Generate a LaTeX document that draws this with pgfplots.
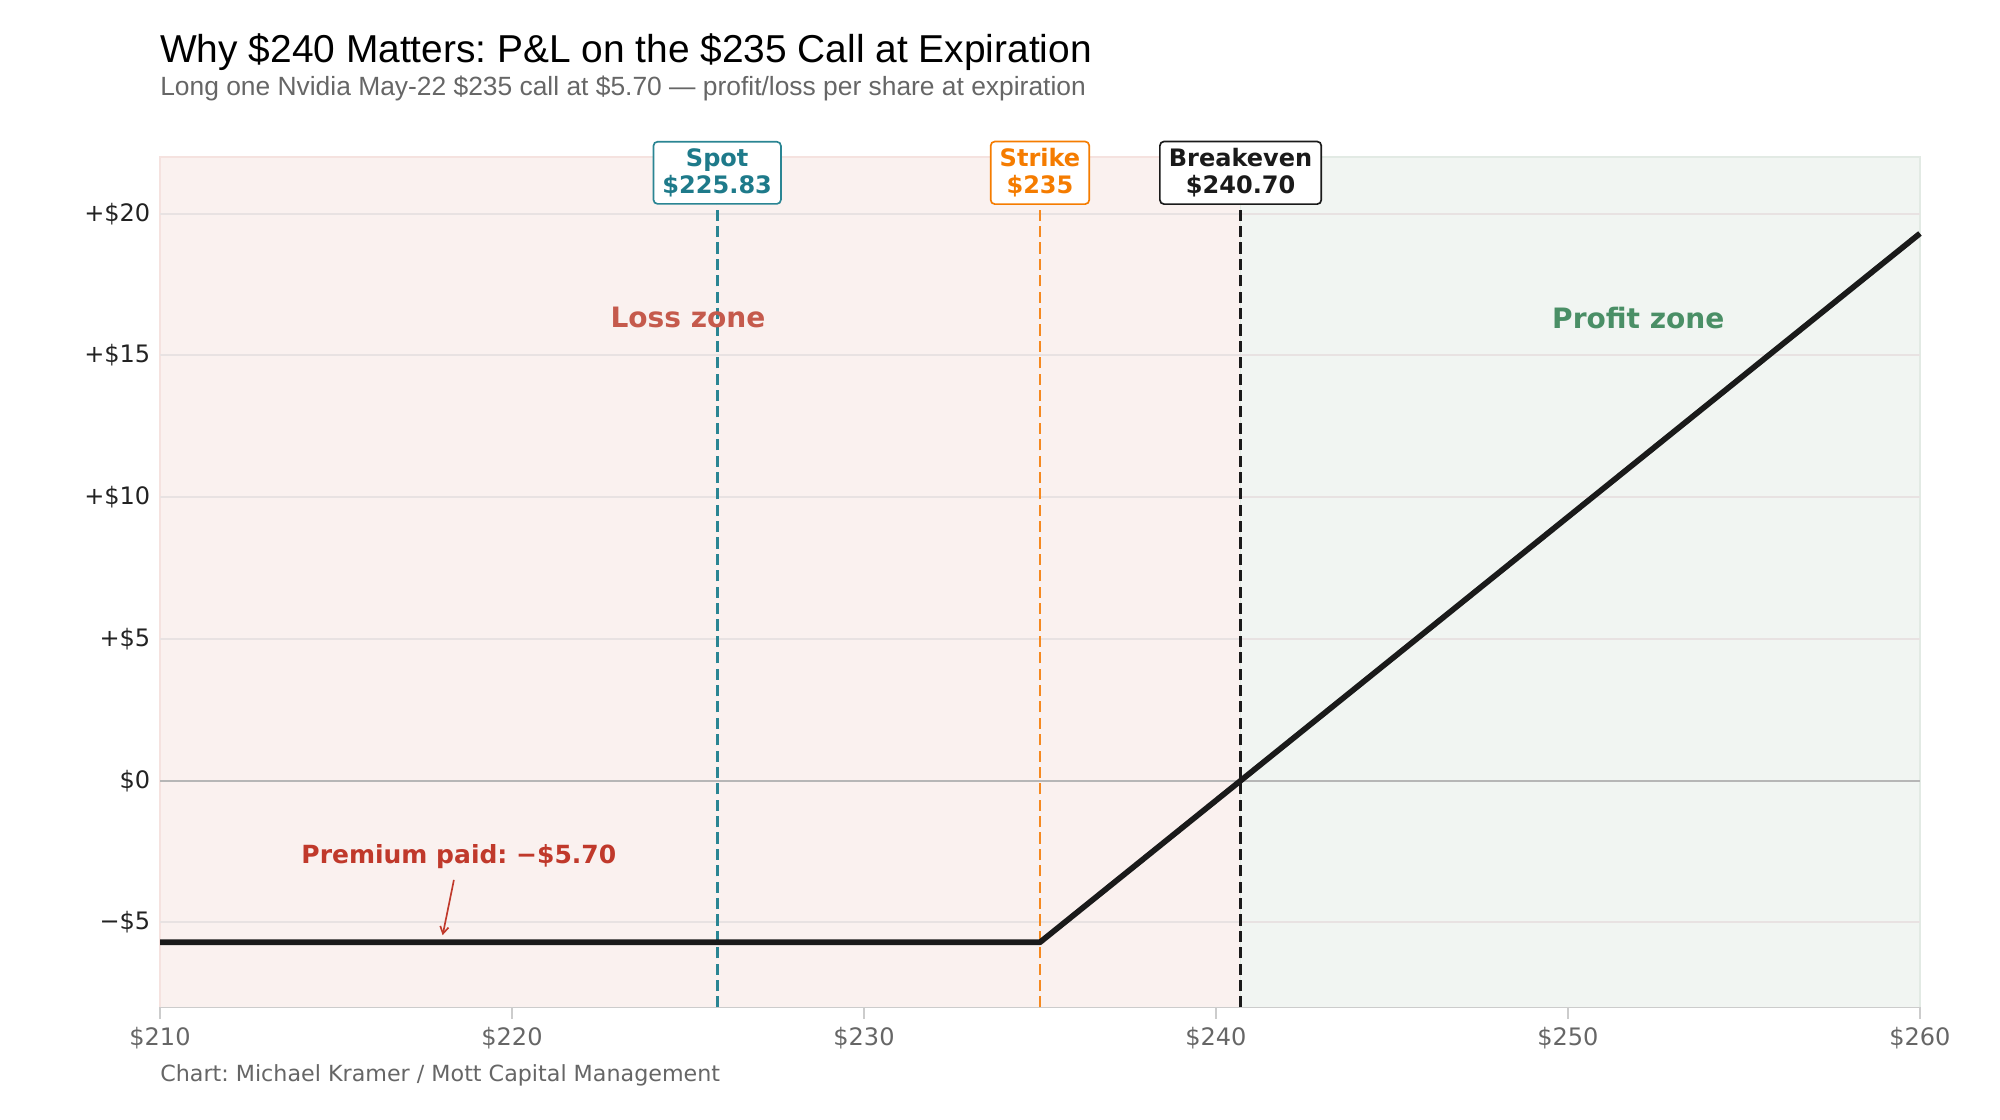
\documentclass[border=0pt]{standalone}
\usepackage{fontspec}
\setmainfont{DejaVu Sans}
\newfontfamily\headfont{Liberation Sans}
\usepackage{pgfplots}
\pgfplotsset{compat=1.18}
\usetikzlibrary{arrows.meta}
\frenchspacing

\definecolor{lossfill}{RGB}{250,241,239}
\definecolor{lossedge}{RGB}{245,226,223}
\definecolor{profitfill}{RGB}{241,245,242}
\definecolor{profitedge}{RGB}{226,234,228}
\definecolor{gridc}{RGB}{232,226,226}
\definecolor{zeroc}{RGB}{182,182,182}
\definecolor{spinec}{RGB}{204,204,204}
\definecolor{payoff}{RGB}{26,26,26}
\definecolor{spotline}{RGB}{42,133,147}
\definecolor{spottext}{RGB}{30,122,138}
\definecolor{strikeline}{RGB}{245,137,31}
\definecolor{striketext}{RGB}{245,124,0}
\definecolor{bevenc}{RGB}{26,26,26}
\definecolor{losstext}{RGB}{197,90,76}
\definecolor{profittext}{RGB}{74,143,102}
\definecolor{premtext}{RGB}{192,57,43}
\definecolor{greytext}{RGB}{102,102,102}
\definecolor{ylabc}{RGB}{34,34,34}

\tikzset{tag/.style={fill=white, rounded corners=3bp, line width=1.2bp, align=center,
  inner xsep=6.5bp, inner ysep=5bp, font=\bfseries\fontsize{17.3bp}{19.4bp}\selectfont}}

\begin{document}
\begin{tikzpicture}
% page frame
\path (0,0) rectangle (1440bp,806.4bp);

% Title block
\node[anchor=base west, inner sep=0, text=black]
  at (115.2bp,761.4bp) {\headfont\fontsize{28bp}{32bp}\selectfont Why \$240 Matters: P\&L on the \$235 Call at Expiration};
\node[anchor=base west, inner sep=0, text=greytext]
  at (115.2bp,737.5bp) {\headfont\fontsize{19bp}{22bp}\selectfont Long one Nvidia May-22 \$235 call at \$5.70 — profit/loss per share at expiration};

\begin{axis}[
  at={(115.2bp,81bp)}, anchor=south west,
  scale only axis, width=1267.2bp, height=612.4bp,
  xmin=210, xmax=260, ymin=-8, ymax=22,
  set layers, clip=false,
  axis x line*=bottom, axis y line*=left,
  x axis line style={draw=spinec, line width=1.4bp, -},
  y axis line style={draw=none},
  xtick={210,220,230,240,250,260},
  xticklabels={\$210,\$220,\$230,\$240,\$250,\$260},
  ytick={-5,0,5,10,15,20},
  yticklabels={−\$5,\$0,+\$5,+\$10,+\$15,+\$20},
  tick align=outside,
  major tick length=8bp,
  x tick style={draw=spinec, line width=1.4bp},
  y tick style={draw=none},
  ymajorgrids,
  grid style={draw=gridc, line width=1.4bp},
  xticklabel style={font=\fontsize{17.3bp}{20bp}\selectfont, text=greytext, yshift=-2.5bp},
  yticklabel style={font=\fontsize{17.3bp}{20bp}\selectfont, text=ylabc, xshift=4.5bp},
]

% Loss and profit regions
\addplot[on layer=axis background, fill=lossfill, draw=lossedge, line width=1bp]
  coordinates {(210,-8) (240.7,-8) (240.7,22) (210,22)} -- cycle;
\addplot[on layer=axis background, fill=profitfill, draw=profitedge, line width=1bp]
  coordinates {(240.7,-8) (260,-8) (260,22) (240.7,22)} -- cycle;

% Zero line
\addplot[draw=zeroc, line width=1.6bp] coordinates {(210,0) (260,0)};

% Reference levels
\addplot[draw=spotline, line width=2.1bp, dash pattern=on 8bp off 3.8bp]
  coordinates {(225.83,-8) (225.83,22)};
\addplot[draw=strikeline, line width=2.1bp, dash pattern=on 8bp off 3.8bp]
  coordinates {(235,-8) (235,22)};
\addplot[draw=bevenc, line width=2.1bp, dash pattern=on 8bp off 3.8bp]
  coordinates {(240.7,-8) (240.7,22)};

% Payoff at expiration
\addplot[draw=payoff, line width=4.1bp, line join=round]
  coordinates {(210,-5.7) (235,-5.7) (260,19.3)};

% Zone labels
\node[text=losstext, font=\bfseries\fontsize{20.2bp}{24bp}\selectfont]
  at (axis cs:225,16.33) {Loss zone};
\node[text=profittext, font=\bfseries\fontsize{20.2bp}{24bp}\selectfont]
  at (axis cs:252,16.33) {Profit zone};

% Premium annotation
\node[text=premtext, font=\bfseries\fontsize{18bp}{22bp}\selectfont]
  at (axis cs:218.49,-2.69) {Premium paid: −\$5.70};
\draw[premtext, line width=1.2bp, -{Straight Barb[length=5bp,width=6bp]}]
  (axis cs:218.35,-3.5) -- (axis cs:218.03,-5.45);

% Level tags
\node[tag, draw=spotline, text=spottext] at (axis cs:225.83,21.44) {Spot\\\$225.83};
\node[tag, draw=striketext, text=striketext] at (axis cs:235,21.44) {Strike\\\$235};
\node[tag, draw=bevenc, text=bevenc] at (axis cs:240.7,21.44) {Breakeven\\\$240.70};
\end{axis}

% Credit line
\node[anchor=base west, inner sep=0, text=greytext]
  at (115.2bp,27.4bp) {\fontsize{16bp}{19bp}\selectfont Chart: Michael Kramer / Mott Capital Management};
\end{tikzpicture}
\end{document}
